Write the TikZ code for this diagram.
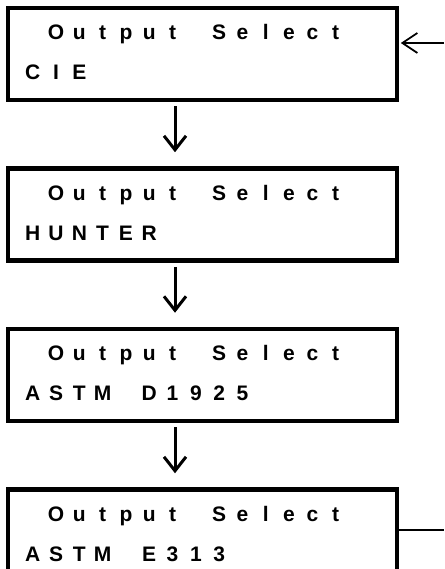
\documentclass[tikz,border=0pt]{standalone}
\usepackage{fontspec}
\setmainfont{Liberation Sans}
\usetikzlibrary{arrows.meta,calc,positioning}

\newcommand\lcdpitch{23.3}
\newcommand\lcdfont{\fontsize{21}{21}\selectfont\bfseries}
\newcommand\lcdrow[4]{
  \foreach \ch [count=\c from #3] in {#4}
    \node[lcdchar] at ($(#1.north west) + (27 + \c * \lcdpitch, #2)$) {\ch};
}
\newcommand\lcdscreen[2]{
  \lcdrow{#1}{34}{1}{O,u,t,p,u,t,{},S,e,l,e,c,t}
  \lcdrow{#1}{74}{0}{#2}
}

\tikzset{
  lcdbox/.style={draw, line width=4.5pt, minimum width=389pt, minimum height=92pt, inner sep=0pt},
  lcdchar/.style={anchor=base, inner sep=0pt, font=\lcdfont},
  flow/.style={line width=3pt, shorten <=4pt, shorten >=14pt,
    -{Straight Barb[length=14pt, width=22pt, line width=3pt]}},
  back/.style={line width=1.4pt, shorten >=1.5pt,
    -{Straight Barb[length=15pt, width=20pt, line width=1.8pt]}},
  backline/.style={line width=1.4pt}
}

\begin{document}
\begin{tikzpicture}[x=1pt, y=-1pt, node distance=64pt]
  \useasboundingbox (0,0) rectangle (444,569);

  \node[lcdbox] (disp1) at (202.5,54) {};
  \node[lcdbox, below=of disp1] (disp2) {};
  \node[lcdbox, below=of disp2] (disp3) {};
  \node[lcdbox, below=of disp3] (disp4) {};

  \lcdscreen{disp1}{C,I,E}
  \lcdscreen{disp2}{H,U,N,T,E,R}
  \lcdscreen{disp3}{A,S,T,M,{},D,1,9,2,5}
  \lcdscreen{disp4}{A,S,T,M,{},E,3,1,3}

  \coordinate (stem) at (175,0);
  \draw[flow] (disp1.south -| stem) -- (disp2.north -| stem);
  \draw[flow] (disp2.south -| stem) -- (disp3.north -| stem);
  \draw[flow] (disp3.south -| stem) -- (disp4.north -| stem);

  \coordinate (backin) at (444,43);
  \coordinate (backout) at (444,530);
  \draw[back] (backin) -- (disp1.east |- backin);
  \draw[backline] (disp4.east |- backout) -- (backout);
\end{tikzpicture}
\end{document}
